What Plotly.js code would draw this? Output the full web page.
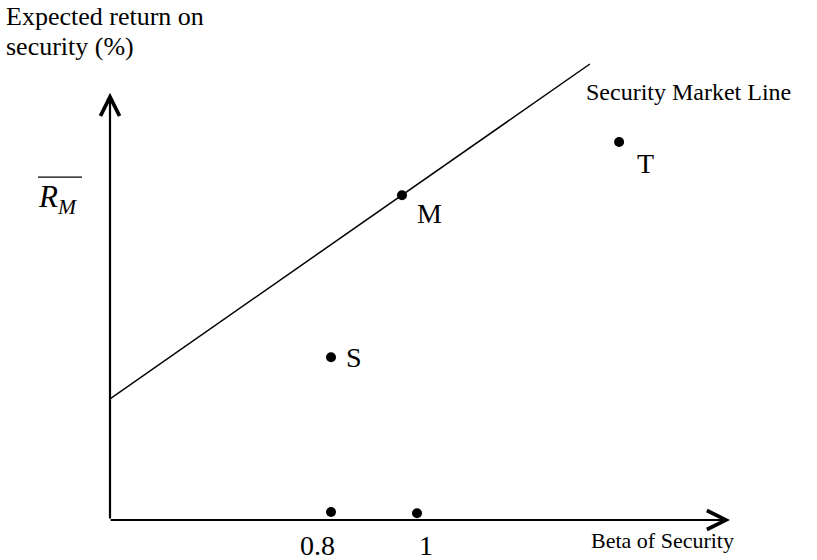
<!DOCTYPE html>
<html><head><meta charset="utf-8">
<script src="https://cdn.plot.ly/plotly-3.0.1.min.js"></script>
<style>html,body{margin:0;padding:0;background:#fff}#chart{width:817px;height:560px}</style>
</head><body><div id="chart"></div>
<script>
// Schematic Security Market Line (beta of security vs expected return %)
const betaOrigin = 0.286;        // beta where the return axis stands
const riskFree = 3.03;           // SML intercept on the return axis
const smlBetaEnd = 1.402;
const smlReturnEnd = 11.4;
const pointNames = ["M", "S", "T"];
const pointBeta = [0.965, 0.8, 1.47];
const pointReturn = [8.12, 4.07, 9.45];
const baseBeta = [0.8, 1.0];
const baseReturn = [0.2, 0.17];
const tickLabels = ["0.8", "1"];
const marketReturn = 8.12;
const xAxisEnd = 1.728;
const yAxisEnd = 10.68;
const yTitleLines = ["Expected return on", "security (%)"];
const yMax = 12;

const serif = '"Liberation Serif", "Times New Roman", serif';
const black = '#000';

const traces = [
  {x: [betaOrigin, smlBetaEnd], y: [riskFree, smlReturnEnd], mode: 'lines',
   line: {color: black, width: 1.5}, hoverinfo: 'skip', showlegend: false},
  {x: pointBeta, y: pointReturn, mode: 'markers', marker: {color: black, size: 10},
   cliponaxis: false, showlegend: false},
  {x: baseBeta, y: baseReturn, mode: 'markers', marker: {color: black, size: 10},
   cliponaxis: false, showlegend: false}
];

const labelShift = {M: [28, -18], S: [23, 0], T: [26, -21]};
const annotations = [];
// axes with open arrowheads
annotations.push({x: betaOrigin, y: yAxisEnd, ax: betaOrigin, ay: 0, xref: 'x', yref: 'y',
  axref: 'x', ayref: 'y', text: '', showarrow: true, arrowhead: 5, arrowwidth: 2.2,
  arrowsize: 1.7, arrowcolor: black, standoff: 0, startstandoff: 0});
annotations.push({x: xAxisEnd, y: 0, ax: betaOrigin - 0.002, ay: 0, xref: 'x', yref: 'y',
  axref: 'x', ayref: 'y', text: '', showarrow: true, arrowhead: 5, arrowwidth: 2.2,
  arrowsize: 1.7, arrowcolor: black, standoff: 0, startstandoff: 0});
pointNames.forEach((n, i) => {
  annotations.push({x: pointBeta[i], y: pointReturn[i], xref: 'x', yref: 'y', text: n,
    showarrow: false, xanchor: 'center', yanchor: 'middle',
    xshift: labelShift[n][0], yshift: labelShift[n][1],
    font: {family: serif, size: 28, color: black}});
});
const tickShift = [-14, 9];
tickLabels.forEach((t, i) => {
  annotations.push({x: baseBeta[i], y: 0, xref: 'x', yref: 'y', text: t, showarrow: false,
    xanchor: 'center', yanchor: 'top', xshift: tickShift[i], yshift: -8,
    font: {family: serif, size: 28, color: black}});
});
yTitleLines.forEach((t, i) => {
  annotations.push({x: -0.163, y: 1.083 - i * 30 / 480, xref: 'paper', yref: 'paper',
    xanchor: 'left', yanchor: 'top', align: 'left', text: t, showarrow: false,
    font: {family: serif, size: 26, color: black}});
});
annotations.push({x: smlBetaEnd, y: smlReturnEnd, xref: 'x', yref: 'y', xanchor: 'left', yanchor: 'middle',
  xshift: -6, yshift: -28, text: 'Security Market Line', showarrow: false,
  font: {family: serif, size: 24, color: black}});
annotations.push({x: xAxisEnd, y: 0, xref: 'x', yref: 'y', xanchor: 'right', yanchor: 'top',
  xshift: 6, yshift: -6, text: 'Beta of Security', showarrow: false,
  font: {family: serif, size: 22, color: black}});
annotations.push({x: betaOrigin, y: marketReturn, xref: 'x', yref: 'y', xanchor: 'center', yanchor: 'middle',
  xshift: -52, yshift: -4, text: '<i>R</i><sub><i>M</i></sub>', showarrow: false,
  font: {family: serif, size: 31, color: black}});

// overline above R_M (paper-referenced so it is not clipped to the plot area)
const shapes = [
  {type: 'line', xref: 'paper', yref: 'paper', xsizemode: 'pixel', ysizemode: 'pixel',
   xanchor: 0, yanchor: marketReturn / yMax, x0: -72, x1: -28, y0: 18, y1: 18,
   line: {color: black, width: 1.2}}
];

const layout = {
  width: 817, height: 560,
  margin: {l: 110, r: 57, t: 40, b: 40},
  paper_bgcolor: '#fff', plot_bgcolor: '#fff',
  xaxis: {range: [betaOrigin, betaOrigin + 650 / 430], showgrid: false, zeroline: false,
    showline: false, showticklabels: false, ticks: '', fixedrange: true},
  yaxis: {range: [0, yMax], showgrid: false, zeroline: false,
    showline: false, showticklabels: false, ticks: '', fixedrange: true},
  annotations: annotations, shapes: shapes, showlegend: false
};
Plotly.newPlot('chart', traces, layout, {displayModeBar: false, staticPlot: true});
</script>
</body></html>
